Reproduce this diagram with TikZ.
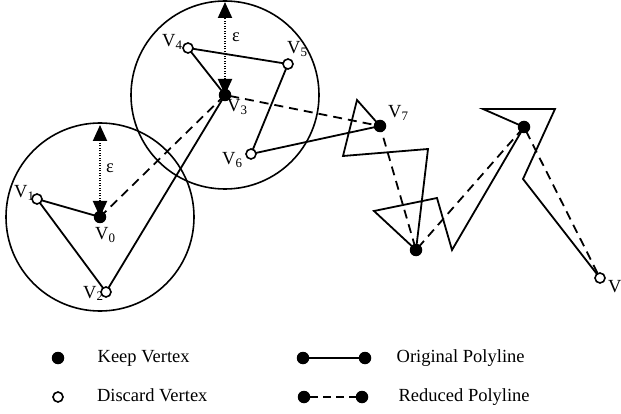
\documentclass[tikz,border=0pt]{standalone}
\usepackage{fontspec}
\setmainfont{Liberation Serif}
\usetikzlibrary{arrows.meta, positioning}

\newcommand\lblfont{\fontsize{18.5}{21}\selectfont}

\tikzset{
  keep/.style={circle, fill=black, inner sep=0pt, minimum size=12.5pt},
  discard/.style={circle, draw=black, fill=white, line width=1.6pt, inner sep=0pt, minimum size=10pt},
  ring/.style={line width=1.6pt},
  orig/.style={line width=1.8pt, line join=miter},
  reduced/.style={line width=1.8pt, dash pattern=on 9pt off 6pt},
  tol/.style={line width=2pt, dash pattern=on 1.3pt off 1.2pt,
    {Triangle[length=16pt,width=14pt]}-{Triangle[length=16pt,width=14pt]}},
  vlabel/.style={anchor=base west, inner sep=0pt, font=\lblfont},
  legtext/.style={inner sep=0pt, font=\lblfont, text height=12pt, text depth=4pt},
}

\begin{document}
\begin{tikzpicture}[x=1pt, y=-1pt]
  \useasboundingbox (0,0) rectangle (621,414);

  % vertices of the polyline
  \coordinate (v0) at (100,217);
  \coordinate (v1) at (37,199);
  \coordinate (v2) at (106,292);
  \coordinate (v3) at (225,95);
  \coordinate (v4) at (188,48);
  \coordinate (v5) at (288,64);
  \coordinate (v6) at (251,154);
  \coordinate (v7) at (380,126);
  \coordinate (v8) at (357,100);
  \coordinate (v9) at (343,156);
  \coordinate (v10) at (428,149);
  \coordinate (v11) at (416,250);
  \coordinate (v12) at (374,211);
  \coordinate (v13) at (437,198);
  \coordinate (v14) at (452,250);
  \coordinate (v15) at (524,127);
  \coordinate (v16) at (483,109);
  \coordinate (v17) at (555,109);
  \coordinate (v18) at (523,179);
  \coordinate (v19) at (600,278);

  % tolerance circles and their radius
  \draw[ring] (v0) circle[radius=94pt];
  \draw[ring] (v3) circle[radius=94pt];
  \coordinate (e0) at (100,125);
  \coordinate (e3) at (225,2);
  \draw[tol] (v0) -- (e0);
  \draw[tol] (v3) -- (e3);
  \node[vlabel] (eps0) at (106,173) {ε};
  \node[vlabel] (eps3) at (232,42) {ε};

  % original and reduced polyline
  \draw[orig] (v0) -- (v1) -- (v2) -- (v3) -- (v4) -- (v5) -- (v6) -- (v7)
    -- (v8) -- (v9) -- (v10) -- (v11) -- (v12) -- (v13) -- (v14) -- (v15)
    -- (v16) -- (v17) -- (v18) -- (v19);
  \draw[reduced] (v0) -- (v3) -- (v7) -- (v11) -- (v15) -- (v19);

  % vertex labels
  \node[vlabel] (l0) at (95,240) {V\textsubscript{0}};
  \node[vlabel] (l1) at (14,198) {V\textsubscript{1}};
  \node[vlabel] (l2) at (83,298) {V\textsubscript{2}};
  \node[vlabel] (l3) at (227,112) {V\textsubscript{3}};
  \node[vlabel] (l4) at (162,47) {V\textsubscript{4}};
  \node[vlabel] (l5) at (287,54) {V\textsubscript{5}};
  \node[vlabel] (l6) at (222,165) {V\textsubscript{6}};
  \node[vlabel] (l7) at (388,118) {V\textsubscript{7}};
  \node[vlabel] (l19) at (608,292) {V\textsubscript{19}};

  % kept and discarded vertices
  \foreach \v in {v0,v3,v7,v11,v15}
    \node[keep] (k\v) at (\v) {};
  \foreach \v in {v1,v2,v4,v5,v6,v19}
    \node[discard] (d\v) at (\v) {};

  % legend
  \node[keep] (lk) at (58,358) {};
  \node[legtext, right=33pt of lk] (lktext) {Keep Vertex};
  \node[discard] (ld) at (58,397) {};
  \node[legtext, right=33pt of ld] (ldtext) {Discard Vertex};
  \node[keep] (lo1) at (303,358) {};
  \node[keep] (lo2) at (365,358) {};
  \draw[orig] (lo1) -- (lo2);
  \node[legtext, right=25pt of lo2] (lotext) {Original Polyline};
  \node[keep] (lr1) at (304,397) {};
  \node[keep] (lr2) at (362,397) {};
  \draw[reduced, dash pattern=on 8pt off 5pt] (lr1) -- (lr2);
  \node[legtext, right=30pt of lr2] (lrtext) {Reduced Polyline};
\end{tikzpicture}
\end{document}
